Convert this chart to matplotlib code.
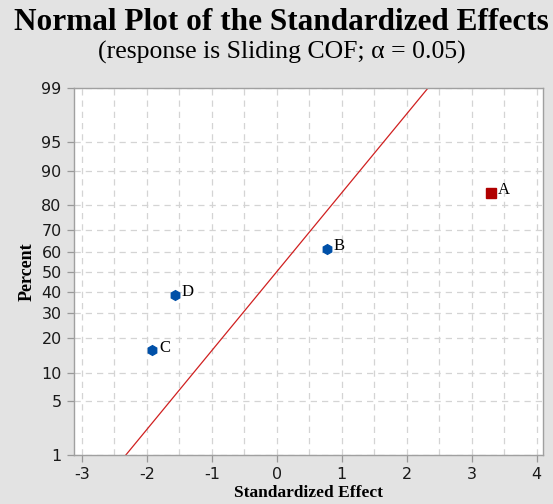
import numpy as np
import matplotlib.pyplot as plt
from statistics import NormalDist

# Effects
terms = ["A", "B", "C", "D"]
effects = [3.30, 0.77, -1.92, -1.57]
percents = [84.1, 61.4, 15.9, 38.6]
significant = [True, False, False, False]

# fitted reference line (percent = Phi(effect))
line_x = [-2.33, 2.33]

y_ticks = [1, 5, 10, 20, 30, 40, 50, 60, 70, 80, 90, 95, 99]
x_ticks = [-3, -2, -1, 0, 1, 2, 3, 4]

nd = NormalDist()


def z(p):
    return nd.inv_cdf(p / 100.0)


fig = plt.figure(figsize=(5.53, 5.04), dpi=100, facecolor="#e3e3e3")
ax = fig.add_axes([0.133, 0.097, 0.849, 0.728])
ax.set_facecolor("white")

# grid
for xv in np.arange(-3, 4.01, 0.5):
    ax.axvline(xv, color="#d4d4d4", lw=0.9, ls=(0, (5, 4)), zorder=0)
for p in y_ticks:
    ax.axhline(z(p), color="#d4d4d4", lw=0.9, ls=(0, (5, 4)), zorder=0)

# reference line
lx = np.array(line_x)
ax.plot(lx, [z(nd.cdf(v) * 100) for v in lx], color="#d02020", lw=0.9, zorder=2)

for t, e, p, s in zip(terms, effects, percents, significant):
    if s:
        ax.plot(e, z(p), marker="s", ms=7, color="#b00000", ls="none", zorder=3)
    else:
        ax.plot(e, z(p), marker="h", ms=7, color="#0050a8", ls="none", zorder=3)
    ax.annotate(t, (e, z(p)), xytext=(5, 2), textcoords="offset points",
                fontsize=12, family="Liberation Serif", va="center", ha="left")

ax.set_xlim(-3.13, 4.1)
ax.set_ylim(z(1), z(99))
ax.set_xticks(x_ticks)
ax.set_xticklabels([str(v) for v in x_ticks])
ax.set_yticks([z(p) for p in y_ticks])
ax.set_yticklabels([str(p) for p in y_ticks])
ax.tick_params(axis="both", labelsize=11.5, colors="#999999", labelcolor="#1a1a1a",
               length=5, width=0.9)
for sp in ax.spines.values():
    sp.set_color("#a0a0a0")
    sp.set_linewidth(1.0)

ax.set_xlabel("Standardized Effect", fontsize=12.5, fontweight="bold",
              family="Liberation Serif", labelpad=2)
ax.set_ylabel("Percent", fontsize=13, fontweight="bold",
              family="Liberation Serif", labelpad=4)

fig.text(0.508, 0.955, "Normal Plot of the Standardized Effects", ha="center",
         va="center", fontsize=22.5, fontweight="bold", family="Liberation Serif")
fig.text(0.509, 0.895, "(response is Sliding COF; \u03b1 = 0.05)", ha="center",
         va="center", fontsize=18.5, family="Liberation Serif")

plt.savefig("out.png", dpi=100, facecolor=fig.get_facecolor())
